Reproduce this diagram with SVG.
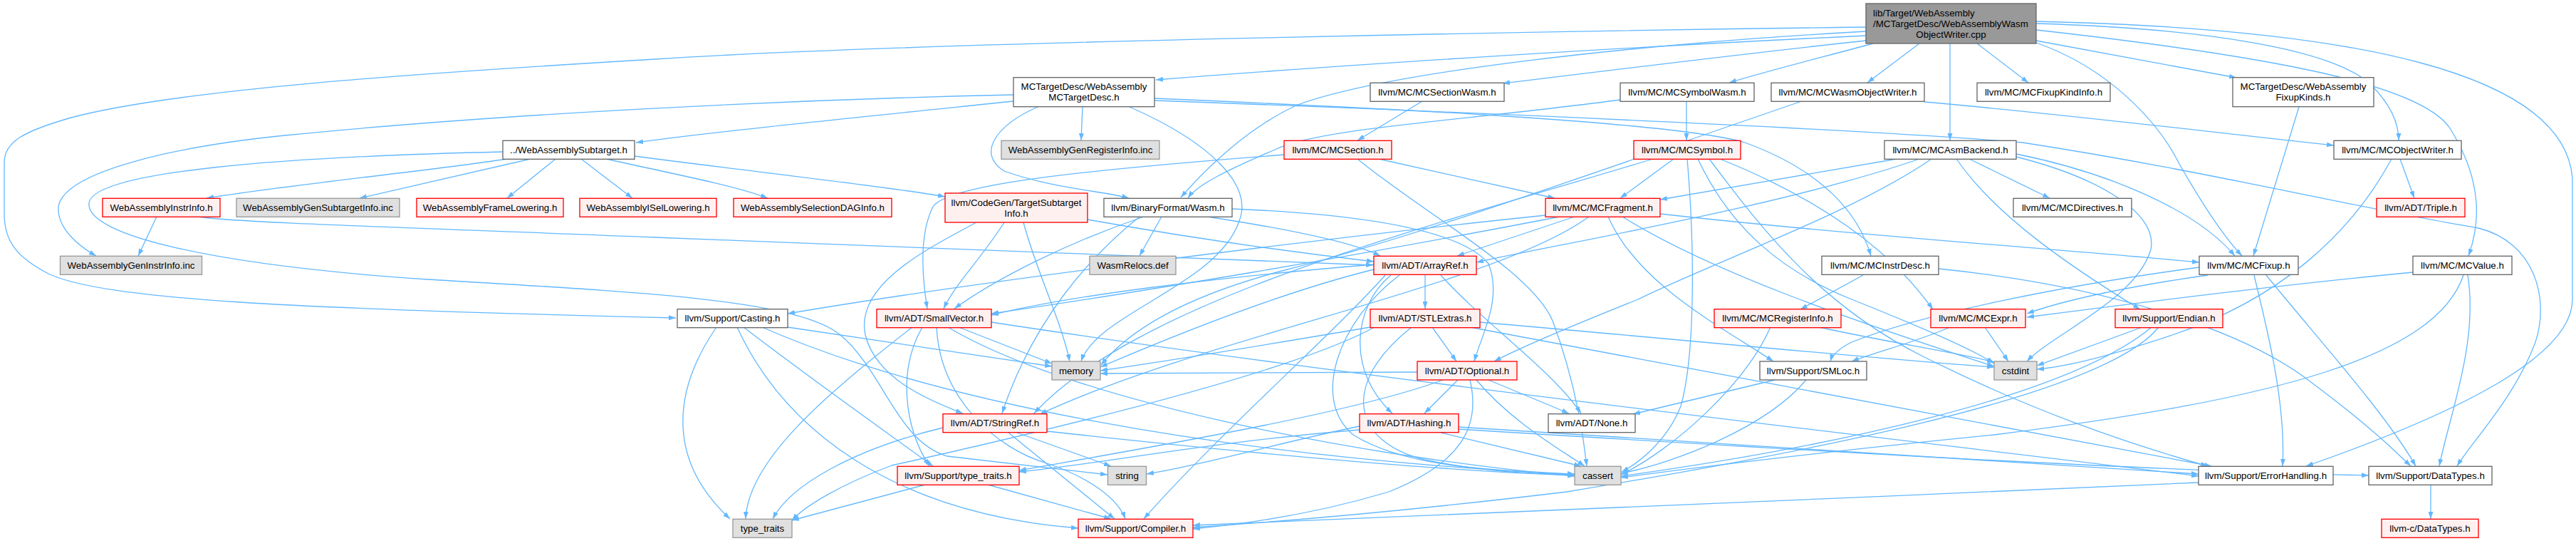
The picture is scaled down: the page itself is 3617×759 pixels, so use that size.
<svg xmlns="http://www.w3.org/2000/svg" width="3617" height="759" viewBox="0 0 3617 759">
<style>
.e{fill:none;stroke:#63b8ff;stroke-width:1.3;marker-end:url(#a)}
.w{fill:#ffffff;stroke:#666666;stroke-width:1.33}
.r{fill:#fff0f0;stroke:#ff0000;stroke-width:1.33}
.g{fill:#e0e0e0;stroke:#999999;stroke-width:1.33}
.m{fill:#999999;stroke:#666666;stroke-width:1.33}
text{font-family:"Liberation Sans",Arial,Helvetica,sans-serif;font-size:13.33px;text-anchor:middle;fill:#000000}
text.l{text-anchor:start}
</style>
<defs>
<marker id="a" viewBox="0 0 10 7" refX="10" refY="3.5" markerWidth="10" markerHeight="7" orient="auto" markerUnits="userSpaceOnUse">
<path d="M0,0 L10,3.5 L0,7 z" fill="#63b8ff"/>
</marker>
</defs>
<rect x="0" y="0" width="3617" height="759" fill="#ffffff"/>
<g id="edges">
<path class="e" d="M2620,50 C2300,65 1900,90 1623,112"/>
<path class="e" d="M2620,38 C2300,42 1300,58 920,83 C600,102 250,125 100,165 C30,185 6,200 6,228 L6,300 C6,340 25,362 70,385 C150,420 400,433 949,446"/>
<path class="e" d="M2620,44 C2300,62 1950,100 1822,147 C1750,180 1690,240 1658,277"/>
<path class="e" d="M2620,57 C2450,75 2250,100 2110,117"/>
<path class="e" d="M2630,61 C2560,80 2480,100 2428,116"/>
<path class="e" d="M2695,61 L2622,116"/>
<path class="e" d="M2738,61 L2738,197"/>
<path class="e" d="M2776,61 L2848,116"/>
<path class="e" d="M2859,57 L3140,109"/>
<path class="e" d="M2859,60 C2960,95 3030,170 3060,230 C3100,300 3130,340 3148,359"/>
<path class="e" d="M2859,33 C3100,40 3280,70 3330,120 C3360,150 3368,175 3368,197"/>
<path class="e" d="M2859,42 C3200,80 3400,120 3440,180 C3490,260 3480,320 3466,359"/>
<path class="e" d="M2859,30 C3300,40 3600,100 3612,250 L3612,420 C3612,500 3450,580 3238,654"/>
<path class="e" d="M1423,133 C1100,140 700,160 400,190 C250,205 90,240 82,290 C80,320 110,345 135,359"/>
<path class="e" d="M1423,142 C1200,165 1000,185 893,200"/>
<path class="e" d="M1457,150 C1400,175 1370,215 1410,240 C1480,265 1550,268 1585,278"/>
<path class="e" d="M1520,150 L1518,197"/>
<path class="e" d="M1586,150 C1700,200 1760,260 1740,310 C1710,400 1540,440 1518,507"/>
<path class="e" d="M1621,138 C1900,150 2350,170 2450,200 C2560,240 2610,300 2627,359"/>
<path class="e" d="M1621,141 C2000,155 2600,180 2840,200 C3100,240 3300,290 3480,320 C3560,340 3580,420 3560,480 C3530,560 3470,620 3450,654"/>
<path class="e" d="M712,223 C600,240 400,260 290,278"/>
<path class="e" d="M745,223 L505,278"/>
<path class="e" d="M780,223 L712,278"/>
<path class="e" d="M816,223 L888,278"/>
<path class="e" d="M851,223 C950,245 1030,260 1078,278"/>
<path class="e" d="M891,219 C1050,240 1250,262 1327,276"/>
<path class="e" d="M706,213 C400,220 130,240 125,285 C120,330 300,372 600,392 C900,410 1120,420 1180,470 C1240,520 1260,620 1330,640 C1420,650 1500,660 1555,666"/>
<path class="e" d="M220,304 L194,359"/>
<path class="e" d="M279,304 C320,312 600,320 920,333 C1300,348 1700,360 1928,372"/>
<path class="e" d="M1371,312 C1300,350 1200,400 1215,470 C1230,530 1300,560 1352,580"/>
<path class="e" d="M1410,312 C1380,360 1340,400 1325,433"/>
<path class="e" d="M1437,312 C1455,380 1490,450 1502,507"/>
<path class="e" d="M1527,308 C1650,330 1800,352 1929,367"/>
<path class="e" d="M1631,304 L1600,359"/>
<path class="e" d="M1606,304 C1500,340 1400,390 1340,433"/>
<path class="e" d="M1600,304 C1530,360 1450,450 1407,580"/>
<path class="e" d="M1730,293 C1900,300 2050,320 2090,370 C2110,420 2080,470 2070,507"/>
<path class="e" d="M1695,304 C1800,320 1900,340 1938,359"/>
<path class="e" d="M1997,142 L1906,197"/>
<path class="e" d="M2368,142 L2368,197"/>
<path class="e" d="M2275,140 C2050,170 1850,180 1790,210 C1720,240 1680,260 1668,278"/>
<path class="e" d="M2702,143 C2900,160 3100,185 3277,204"/>
<path class="e" d="M2530,142 C2300,220 2000,330 1800,380 C1650,420 1580,470 1546,512"/>
<path class="e" d="M3228,150 L3164,359"/>
<path class="e" d="M1936,223 L2183,278"/>
<path class="e" d="M1906,223 C2000,300 2150,380 2180,450 C2210,530 2222,600 2228,654"/>
<path class="e" d="M1804,217 C1500,240 1330,260 1310,290 C1290,330 1295,390 1302,433"/>
<path class="e" d="M2350,223 L2275,278"/>
<path class="e" d="M2321,223 C2000,320 1600,420 1452,580"/>
<path class="e" d="M2369,223 C2380,350 2380,500 2360,570 C2340,620 2300,650 2277,662"/>
<path class="e" d="M2384,223 C2430,320 2500,380 2600,420 C2700,460 2770,490 2800,510"/>
<path class="e" d="M2415,223 C2520,265 2640,330 2714,434"/>
<path class="e" d="M2400,223 C2480,330 2560,430 2700,500 C2850,575 2980,620 3100,654"/>
<path class="e" d="M2663,223 L2331,280"/>
<path class="e" d="M2695,223 C2500,290 2200,340 2073,368"/>
<path class="e" d="M2712,223 C2600,300 2400,370 2300,420 C2200,460 2130,490 2098,507"/>
<path class="e" d="M2747,223 C2800,300 2900,370 3005,434"/>
<path class="e" d="M2765,223 L2878,278"/>
<path class="e" d="M2831,216 C2950,240 3080,290 3138,359"/>
<path class="e" d="M2831,220 C2950,250 3030,300 3020,350 C3000,420 2880,470 2846,507"/>
<path class="e" d="M3370,223 L3390,278"/>
<path class="e" d="M3358,223 C3300,330 3200,420 3050,470 C2960,500 2900,515 2860,518"/>
<path class="e" d="M2170,302 C1900,330 1400,390 1106,440"/>
<path class="e" d="M2211,304 L2046,359"/>
<path class="e" d="M2190,304 C1900,360 1600,410 1392,440"/>
<path class="e" d="M2231,304 C2100,400 1700,470 1460,581"/>
<path class="e" d="M2258,304 C2300,400 2420,460 2490,507"/>
<path class="e" d="M2278,304 C2400,380 2600,450 2800,514"/>
<path class="e" d="M2331,300 C2600,330 2900,350 3088,368"/>
<path class="e" d="M2001,386 L2001,433"/>
<path class="e" d="M2023,386 C2080,450 2180,520 2220,580"/>
<path class="e" d="M1953,386 C1900,430 1890,520 1955,580"/>
<path class="e" d="M1965,386 C1880,450 1840,560 1900,610 C1980,660 2120,660 2211,665"/>
<path class="e" d="M1929,378 C1800,410 1650,470 1545,515"/>
<path class="e" d="M1929,371 C1700,390 1500,415 1392,442"/>
<path class="e" d="M1945,386 C1880,460 1700,620 1606,728"/>
<path class="e" d="M1006,459 C950,540 930,640 1025,728"/>
<path class="e" d="M1035,459 C1100,600 1250,720 1514,741"/>
<path class="e" d="M1044,459 C1150,540 1250,610 1310,654"/>
<path class="e" d="M1070,459 C1300,560 1700,640 2211,666"/>
<path class="e" d="M1106,459 L1477,514"/>
<path class="e" d="M1281,459 C1150,560 1050,650 1047,728"/>
<path class="e" d="M1295,459 C1260,520 1270,600 1305,654"/>
<path class="e" d="M1315,459 C1320,560 1400,630 1470,650 C1530,670 1570,700 1580,728"/>
<path class="e" d="M1331,459 C1500,560 1900,640 2211,668"/>
<path class="e" d="M1346,459 L1477,510"/>
<path class="e" d="M1392,452 C1900,530 2700,620 3087,668"/>
<path class="e" d="M2011,459 L2045,507"/>
<path class="e" d="M1982,459 C1880,540 1900,620 2000,645 C2100,665 2170,665 2211,666"/>
<path class="e" d="M2064,459 C2400,520 2800,600 3105,654"/>
<path class="e" d="M2078,452 C2400,480 2650,505 2800,515"/>
<path class="e" d="M1924,459 C1800,480 1650,505 1545,520"/>
<path class="e" d="M1930,459 C1800,530 1400,620 1252,653 C1180,680 1130,710 1112,730"/>
<path class="e" d="M2486,459 C2450,540 2350,630 2276,666"/>
<path class="e" d="M2554,459 C2650,480 2750,495 2800,508"/>
<path class="e" d="M2787,459 L2820,507"/>
<path class="e" d="M2738,459 C2690,480 2630,495 2600,507"/>
<path class="e" d="M3008,459 L2860,513"/>
<path class="e" d="M3031,459 C2950,560 2500,640 2200,690 C1950,720 1750,735 1675,740"/>
<path class="e" d="M3021,459 C2900,560 2550,630 2276,668"/>
<path class="e" d="M2047,533 L2000,580"/>
<path class="e" d="M2090,533 L2203,580"/>
<path class="e" d="M2073,533 C2120,590 2190,630 2225,654"/>
<path class="e" d="M2064,533 C2080,600 2050,650 1950,690 C1850,720 1750,735 1675,742"/>
<path class="e" d="M2026,533 C1900,580 1600,630 1431,660"/>
<path class="e" d="M1990,522 C1800,522 1650,523 1545,524"/>
<path class="e" d="M2492,533 L2293,581"/>
<path class="e" d="M2536,533 C2480,600 2350,650 2276,664"/>
<path class="e" d="M1324,600 C1200,630 1110,680 1085,728"/>
<path class="e" d="M1416,607 L1565,728"/>
<path class="e" d="M1428,607 L1560,654"/>
<path class="e" d="M1470,605 C1700,630 2000,660 2211,667"/>
<path class="e" d="M2023,607 L2220,654"/>
<path class="e" d="M2048,599 C2400,620 2800,650 3087,665"/>
<path class="e" d="M2048,602 C2500,630 3000,660 3326,667"/>
<path class="e" d="M1909,603 C1700,620 1550,650 1431,662"/>
<path class="e" d="M1909,598 C1800,620 1700,650 1610,665"/>
<path class="e" d="M1299,680 L1112,730"/>
<path class="e" d="M1387,680 L1560,728"/>
<path class="e" d="M3087,677 C2600,700 2000,720 1675,737"/>
<path class="e" d="M3413,680 L3413,728"/>
<path class="e" d="M2616,386 L2528,434"/>
<path class="e" d="M2722,377 C2950,400 3150,460 3250,540 C3330,600 3360,630 3385,654"/>
<path class="e" d="M3088,375 C2900,400 2700,440 2600,480 C2580,490 2572,500 2570,507"/>
<path class="e" d="M3100,386 C3000,400 2900,420 2846,440"/>
<path class="e" d="M3388,382 C3200,400 3000,425 2846,445"/>
<path class="e" d="M3165,386 C3180,450 3210,560 3205,654"/>
<path class="e" d="M3182,386 C3250,470 3350,580 3392,654"/>
<path class="e" d="M3459,386 C3420,500 3200,560 2800,610 C2500,640 2350,660 2276,670"/>
<path class="e" d="M3465,386 C3480,480 3440,580 3425,654"/>
</g>
<g id="n0"><rect class="m" x="2620" y="5" width="239" height="56"/><text class="l" x="2630" y="22.5">lib/Target/WebAssembly</text><text class="l" x="2630" y="37.5">/MCTargetDesc/WebAssemblyWasm</text><text x="2739.5" y="52.5">ObjectWriter.cpp</text></g>
<g id="n1"><rect class="w" x="1423" y="108.7" width="198" height="41"/><text x="1522" y="126.2">MCTargetDesc/WebAssembly</text><text x="1522" y="141.2">MCTargetDesc.h</text></g>
<g id="n13"><rect class="w" x="1924" y="116.3" width="188" height="26"/><text x="2018" y="133.8">llvm/MC/MCSectionWasm.h</text></g>
<g id="n14"><rect class="w" x="2275" y="116.3" width="188" height="26"/><text x="2369" y="133.8">llvm/MC/MCSymbolWasm.h</text></g>
<g id="n15"><rect class="w" x="2487" y="116.3" width="215" height="26"/><text x="2594.5" y="133.8">llvm/MC/MCWasmObjectWriter.h</text></g>
<g id="n16"><rect class="w" x="2776" y="116.3" width="187" height="26"/><text x="2869.5" y="133.8">llvm/MC/MCFixupKindInfo.h</text></g>
<g id="n17"><rect class="w" x="3135" y="108.7" width="198" height="41"/><text x="3234" y="126.2">MCTargetDesc/WebAssembly</text><text x="3234" y="141.2">FixupKinds.h</text></g>
<g id="n2"><rect class="w" x="706" y="197.3" width="185" height="26"/><text x="798.5" y="214.8">../WebAssemblySubtarget.h</text></g>
<g id="n10"><rect class="g" x="1406" y="197.3" width="222" height="26"/><text x="1517" y="214.8">WebAssemblyGenRegisterInfo.inc</text></g>
<g id="n18"><rect class="r" x="1803" y="197.3" width="151" height="26"/><text x="1878.5" y="214.8">llvm/MC/MCSection.h</text></g>
<g id="n19"><rect class="r" x="2294" y="197.3" width="150" height="26"/><text x="2369" y="214.8">llvm/MC/MCSymbol.h</text></g>
<g id="n20"><rect class="w" x="2646" y="197.3" width="185" height="26"/><text x="2738.5" y="214.8">llvm/MC/MCAsmBackend.h</text></g>
<g id="n21"><rect class="w" x="3277" y="197.3" width="179" height="26"/><text x="3366.5" y="214.8">llvm/MC/MCObjectWriter.h</text></g>
<g id="n3"><rect class="r" x="144" y="278.3" width="165" height="26"/><text x="226.5" y="295.8">WebAssemblyInstrInfo.h</text></g>
<g id="n5"><rect class="g" x="332" y="278.3" width="229" height="26"/><text x="446.5" y="295.8">WebAssemblyGenSubtargetInfo.inc</text></g>
<g id="n6"><rect class="r" x="585" y="278.3" width="206" height="26"/><text x="688" y="295.8">WebAssemblyFrameLowering.h</text></g>
<g id="n7"><rect class="r" x="814" y="278.3" width="192" height="26"/><text x="910" y="295.8">WebAssemblyISelLowering.h</text></g>
<g id="n8"><rect class="r" x="1030" y="278.3" width="222" height="26"/><text x="1141" y="295.8">WebAssemblySelectionDAGInfo.h</text></g>
<g id="n9"><rect class="r" x="1327" y="271" width="200" height="41"/><text x="1427" y="288.5">llvm/CodeGen/TargetSubtarget</text><text x="1427" y="303.5">Info.h</text></g>
<g id="n11"><rect class="w" x="1550" y="278.3" width="180" height="26"/><text x="1640" y="295.8">llvm/BinaryFormat/Wasm.h</text></g>
<g id="n22"><rect class="r" x="2170" y="278.3" width="161" height="26"/><text x="2250.5" y="295.8">llvm/MC/MCFragment.h</text></g>
<g id="n23"><rect class="w" x="2827" y="278.3" width="166" height="26"/><text x="2910" y="295.8">llvm/MC/MCDirectives.h</text></g>
<g id="n24"><rect class="r" x="3337" y="278.3" width="124" height="26"/><text x="3399" y="295.8">llvm/ADT/Triple.h</text></g>
<g id="n4"><rect class="g" x="84.5" y="359.3" width="199" height="26"/><text x="184" y="376.8">WebAssemblyGenInstrInfo.inc</text></g>
<g id="n12"><rect class="g" x="1530" y="359.3" width="121" height="26"/><text x="1590.5" y="376.8">WasmRelocs.def</text></g>
<g id="n25"><rect class="r" x="1929" y="359.3" width="144" height="26"/><text x="2001" y="376.8">llvm/ADT/ArrayRef.h</text></g>
<g id="n26"><rect class="w" x="2558" y="359.3" width="164" height="26"/><text x="2640" y="376.8">llvm/MC/MCInstrDesc.h</text></g>
<g id="n27"><rect class="w" x="3088" y="359.3" width="139" height="26"/><text x="3157.5" y="376.8">llvm/MC/MCFixup.h</text></g>
<g id="n28"><rect class="w" x="3388" y="359.3" width="139" height="26"/><text x="3457.5" y="376.8">llvm/MC/MCValue.h</text></g>
<g id="n29"><rect class="w" x="951" y="433.7" width="155" height="26"/><text x="1028.5" y="451.2">llvm/Support/Casting.h</text></g>
<g id="n30"><rect class="r" x="1231" y="433.7" width="161" height="26"/><text x="1311.5" y="451.2">llvm/ADT/SmallVector.h</text></g>
<g id="n31"><rect class="r" x="1924" y="433.7" width="154" height="26"/><text x="2001" y="451.2">llvm/ADT/STLExtras.h</text></g>
<g id="n32"><rect class="r" x="2407" y="433.7" width="178" height="26"/><text x="2496" y="451.2">llvm/MC/MCRegisterInfo.h</text></g>
<g id="n33"><rect class="r" x="2711" y="433.7" width="133" height="26"/><text x="2777.5" y="451.2">llvm/MC/MCExpr.h</text></g>
<g id="n34"><rect class="r" x="2970" y="433.7" width="151" height="26"/><text x="3045.5" y="451.2">llvm/Support/Endian.h</text></g>
<g id="n35"><rect class="g" x="1477" y="507" width="68" height="26"/><text x="1511" y="524.5">memory</text></g>
<g id="n36"><rect class="r" x="1990" y="507" width="140" height="26"/><text x="2060" y="524.5">llvm/ADT/Optional.h</text></g>
<g id="n37"><rect class="w" x="2471" y="507" width="150" height="26"/><text x="2546" y="524.5">llvm/Support/SMLoc.h</text></g>
<g id="n38"><rect class="g" x="2800" y="507" width="60" height="26"/><text x="2830" y="524.5">cstdint</text></g>
<g id="n39"><rect class="r" x="1324" y="580.7" width="146" height="26"/><text x="1397" y="598.2">llvm/ADT/StringRef.h</text></g>
<g id="n40"><rect class="r" x="1909" y="580.7" width="139" height="26"/><text x="1978.5" y="598.2">llvm/ADT/Hashing.h</text></g>
<g id="n41"><rect class="w" x="2174" y="580.7" width="122" height="26"/><text x="2235" y="598.2">llvm/ADT/None.h</text></g>
<g id="n42"><rect class="r" x="1260" y="654.3" width="171" height="26"/><text x="1345.5" y="671.8">llvm/Support/type_traits.h</text></g>
<g id="n43"><rect class="g" x="1555.5" y="654.3" width="54" height="26"/><text x="1582.5" y="671.8">string</text></g>
<g id="n44"><rect class="g" x="2211" y="654.3" width="65" height="26"/><text x="2243.5" y="671.8">cassert</text></g>
<g id="n45"><rect class="w" x="3087" y="654.3" width="189" height="26"/><text x="3181.5" y="671.8">llvm/Support/ErrorHandling.h</text></g>
<g id="n46"><rect class="w" x="3326" y="654.3" width="173" height="26"/><text x="3412.5" y="671.8">llvm/Support/DataTypes.h</text></g>
<g id="n47"><rect class="g" x="1029" y="728.3" width="83" height="26"/><text x="1070.5" y="745.8">type_traits</text></g>
<g id="n48"><rect class="r" x="1514" y="728.3" width="161" height="26"/><text x="1594.5" y="745.8">llvm/Support/Compiler.h</text></g>
<g id="n49"><rect class="r" x="3344" y="728.3" width="136" height="26"/><text x="3412" y="745.8">llvm-c/DataTypes.h</text></g>
</svg>
